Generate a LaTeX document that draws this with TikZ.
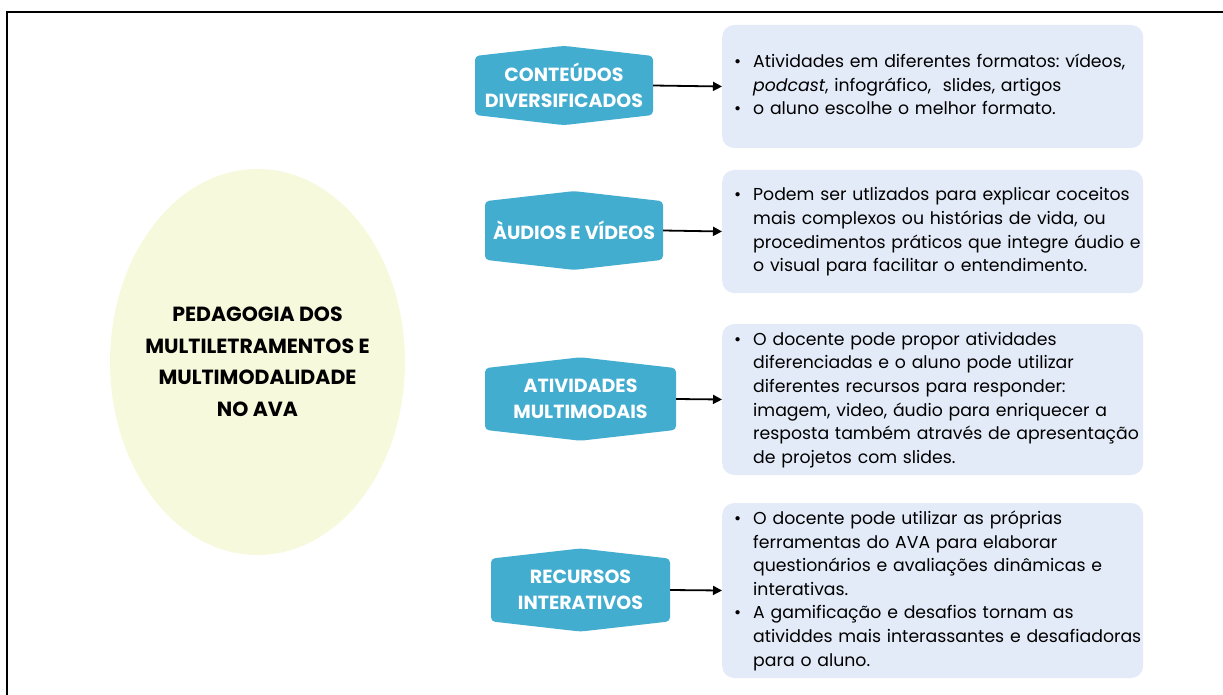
\documentclass[tikz,border=0pt]{standalone}
\usepackage{fontspec}
\setmainfont{Poppins}
\usepackage{tikz}
\usetikzlibrary{shapes}
\usetikzlibrary{arrows.meta}
\definecolor{hubyellow}{HTML}{F7F9DC}
\definecolor{topicblue}{HTML}{43ADD0}
\definecolor{infoblue}{HTML}{E4EBF8}
\setlength{\parindent}{0pt}
\frenchspacing

\begin{document}
\begin{tikzpicture}
[
    x = 1pt, y = -1pt,
    hub/.style = {ellipse, fill = hubyellow, minimum width = 295pt, minimum height = 386pt, inner xsep = -9pt, inner ysep = 0pt, align = center, font = \fontsize{20.5}{31.5}\selectfont\bfseries},
    topic/.style = {signal, signal to = north and south, signal pointer angle = 167, fill = topicblue, text = white, rounded corners = 4pt, inner sep = 0pt, minimum width = 178pt, minimum height = 77pt, align = center, font = \fontsize{19}{26}\selectfont\bfseries},
    info/.style = {rectangle, rounded corners = 12pt, fill = infoblue, anchor = west, text width = 397pt, inner xsep = 12pt, inner ysep = 0pt, align = left, font = \fontsize{17.3}{23.6}\selectfont},
    link/.style = {line width = 1.8pt, -{Triangle[length = 9pt, width = 9pt]}}
]
\useasboundingbox (0,0) rectangle (1223,695);
\draw[line width = 1.8pt] (1223,12) -- (7,12) -- (7,695);

\node[hub] (hub) at (257.5,362) {PEDAGOGIA DOS\\MULTILETRAMENTOS E\\MULTIMODALIDADE\\NO AVA};

\node[topic] (conteudos) at (564,85.5) {CONTEÚDOS\\DIVERSIFICADOS};
\node[topic] (audios) at (574,230.5) {ÀUDIOS E VÍDEOS};
\node[topic, minimum width = 191pt] (atividades) at (580.5,399) {ATIVIDADES\\MULTIMODAIS};
\node[topic, minimum width = 179pt] (recursos) at (580.5,590) {RECURSOS\\INTERATIVOS};

\node[info, minimum height = 123pt] (infoconteudos) at (722,86.5) {%
\begin{tabular}{@{}p{19pt}@{}l@{}}
\textbullet & Atividades em diferentes formatos: vídeos,\\
 & \textit{podcast}, infográfico,\ \ slides, artigos\\
\textbullet & o aluno escolhe o melhor formato.
\end{tabular}};
\node[info, minimum height = 123pt] (infoaudios) at (722,231.5) {%
\begin{tabular}{@{}p{19pt}@{}l@{}}
\textbullet & Podem ser utlizados para explicar coceitos\\
 & mais complexos ou histórias de vida, ou\\
 & procedimentos práticos que integre áudio e\\
 & o visual para facilitar o entendimento.
\end{tabular}};
\node[info, minimum height = 151pt] (infoatividades) at (722,399.5) {%
\begin{tabular}{@{}p{19pt}@{}l@{}}
\textbullet & O docente pode propor atividades\\
 & diferenciadas e o aluno pode utilizar\\
 & diferentes recursos para responder:\\
 & imagem, video, áudio para enriquecer a\\
 & resposta também através de apresentação\\
 & de projetos com slides.
\end{tabular}};
\node[info, minimum height = 175pt] (inforecursos) at (722,590.5) {%
\begin{tabular}{@{}p{19pt}@{}l@{}}
\textbullet & O docente pode utilizar as próprias\\
 & ferramentas do AVA para elaborar\\
 & questionários e avaliações dinâmicas e\\
 & interativas.\\
\textbullet & A gamificação e desafios tornam as\\
 & atividdes mais interassantes e desafiadoras\\
 & para o aluno.
\end{tabular}};

\draw[link] (conteudos.east) -- (infoconteudos.west);
\draw[link] (audios.east) -- (infoaudios.west);
\draw[link] (atividades.east) -- (infoatividades.west);
\draw[link] (recursos.east) -- (inforecursos.west);

\end{tikzpicture}
\end{document}
